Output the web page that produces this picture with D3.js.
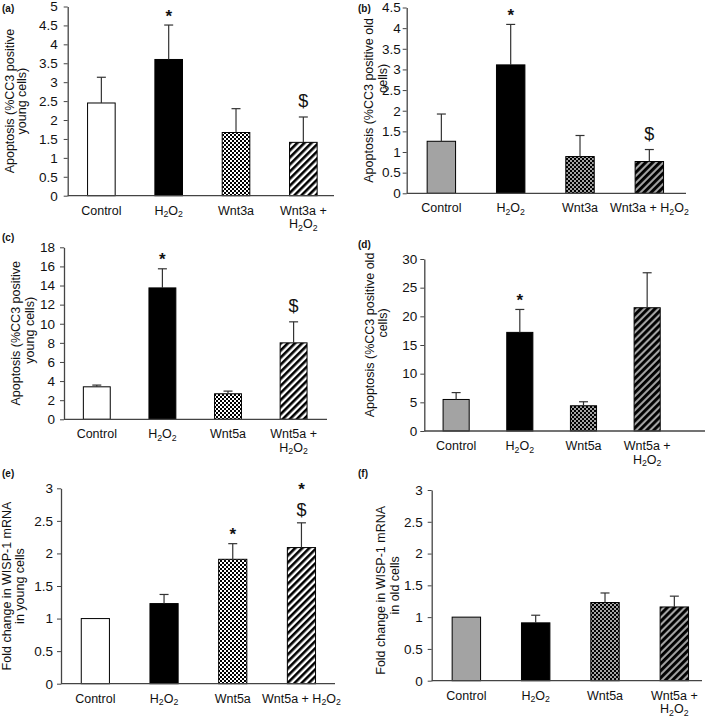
<!DOCTYPE html>
<html>
<head>
<meta charset="utf-8">
<script src="https://cdnjs.cloudflare.com/ajax/libs/d3/7.8.5/d3.min.js"></script>
<style>
  body { margin: 0; background: #fff; }
  svg { display: block; }
  text { font-family: "Liberation Sans", Arial, sans-serif; fill: #111; }
</style>
</head>
<body>
<div id="chart"></div>
<script>
// ---- data ----
var labelsA = [["Control"], ["H_2O_2"], ["Wnt3a"], ["Wnt3a +", "H_2O_2"]];
var labelsB = [["Control"], ["H_2O_2"], ["Wnt3a"], ["Wnt3a + H_2O_2"]];
var labelsC = [["Control"], ["H_2O_2"], ["Wnt5a"], ["Wnt5a +", "H_2O_2"]];
var labelsD = [["Control"], ["H_2O_2"], ["Wnt5a"], ["Wnt5a +", "H_2O_2"]];
var labelsE = [["Control"], ["H_2O_2"], ["Wnt5a"], ["Wnt5a + H_2O_2"]];
var labelsF = [["Control"], ["H_2O_2"], ["Wnt5a"], ["Wnt5a +", "H_2O_2"]];

var valsA = [2.45, 3.6, 1.67, 1.41];
var errA  = [0.68, 0.91, 0.63, 0.67];
var valsB = [1.26, 3.11, 0.89, 0.77];
var errB  = [0.66, 0.98, 0.51, 0.29];
var valsC = [3.4, 13.75, 2.67, 8.0];
var errC  = [0.18, 2.0, 0.28, 2.2];
var valsD = [5.5, 17.2, 4.4, 21.5];
var errD  = [1.2, 4.0, 0.7, 6.1];
var valsE = [1.0, 1.23, 1.91, 2.09];
var errE  = [0, 0.14, 0.24, 0.38];
var valsF = [1.0, 0.91, 1.23, 1.16];
var errF  = [0, 0.12, 0.15, 0.17];

// significance marks, bottom to top
var sigA = [[], ["*"], [], ["$"]];
var sigB = [[], ["*"], [], ["$"]];
var sigC = [[], ["*"], [], ["$"]];
var sigD = [[], ["*"], [], []];
var sigE = [[], [], ["*"], ["$", "*"]];
var sigF = [[], [], [], []];

var ticksA = [0, 0.5, 1, 1.5, 2, 2.5, 3, 3.5, 4, 4.5, 5];
var ticksB = [0, 0.5, 1, 1.5, 2, 2.5, 3, 3.5, 4, 4.5];
var ticksC = [0, 2, 4, 6, 8, 10, 12, 14, 16, 18];
var ticksD = [0, 5, 10, 15, 20, 25, 30];
var ticksE = [0, 0.5, 1, 1.5, 2, 2.5, 3];
var ticksF = [0, 0.5, 1, 1.5, 2, 2.5, 3];

// ---- layout ----
var W = 709, H = 718;
var panels = [
  {tag: "(a)", tagX: 2, tagY: 12, labels: labelsA, vals: valsA, err: errA, sig: sigA, ticks: ticksA,
   x0: 67.7, bandEnd: 337, axisEnd: 334, yTop: 6.5, yBot: 195.7, old: false, tickPad: 6,
   title: ["Apoptosis (%CC3 positive", "young cells)"], titleX: [10, 22], titleDy: [0, 0]},
  {tag: "(b)", tagX: 358, tagY: 12, labels: labelsB, vals: valsB, err: errB, sig: sigB, ticks: ticksB,
   x0: 406.7, bandEnd: 684, axisEnd: 686, yTop: 7.5, yBot: 193.3, old: true, tickPad: 2,
   title: ["Apoptosis (%CC3 positive old", "cells)"], titleX: [369, 383], titleDy: [0, -22]},
  {tag: "(c)", tagX: 2, tagY: 241, labels: labelsC, vals: valsC, err: errC, sig: sigC, ticks: ticksC,
   x0: 64, bandEnd: 326.4, axisEnd: 327, yTop: 247.3, yBot: 419.3, old: false, tickPad: 5,
   title: ["Apoptosis (%CC3 positive", "young cells)"], titleX: [15.5, 30], titleDy: [0, -3]},
  {tag: "(d)", tagX: 358, tagY: 248, labels: labelsD, vals: valsD, err: errD, sig: sigD, ticks: ticksD,
   x0: 424.3, bandEnd: 679, axisEnd: 705, yTop: 259, yBot: 431, old: true, tickPad: 3,
   title: ["Apoptosis (%CC3 positive old", "cells)"], titleX: [370, 383], titleDy: [-10, -22]},
  {tag: "(e)", tagX: 2, tagY: 477, labels: labelsE, vals: valsE, err: errE, sig: sigE, ticks: ticksE,
   x0: 61, bandEnd: 335.8, axisEnd: 335, yTop: 488.3, yBot: 683.7, old: false, tickPad: 4,
   title: ["Fold change in WISP-1 mRNA", "in young cells"], titleX: [7, 20], titleDy: [0, 0]},
  {tag: "(f)", tagX: 358, tagY: 477, labels: labelsF, vals: valsF, err: errF, sig: sigF, ticks: ticksF,
   x0: 431.7, bandEnd: 709, axisEnd: 702, yTop: 490, yBot: 680.7, old: true, tickPad: 5,
   title: ["Fold change in WISP-1 mRNA", "in old cells"], titleX: [381, 395], titleDy: [5, 0]}
];

var svg = d3.select("#chart").append("svg")
    .attr("width", W)
    .attr("height", H);

// fill patterns
var defs = svg.append("defs");
var grey = "#a3a3a3";

function dots(id, bg) {
  var p = defs.append("pattern").attr("id", id)
      .attr("patternUnits", "userSpaceOnUse").attr("width", 4).attr("height", 4);
  p.append("rect").attr("width", 4).attr("height", 4).attr("fill", bg);
  p.append("rect").attr("width", 2).attr("height", 2).attr("fill", "#000");
  p.append("rect").attr("x", 2).attr("y", 2).attr("width", 2).attr("height", 2).attr("fill", "#000");
}
function stripes(id, bg, w) {
  var p = defs.append("pattern").attr("id", id)
      .attr("patternUnits", "userSpaceOnUse").attr("width", 5).attr("height", 5)
      .attr("patternTransform", "rotate(45)");
  p.append("rect").attr("width", 5).attr("height", 5).attr("fill", bg);
  p.append("rect").attr("width", w).attr("height", 5).attr("fill", "#000");
}
dots("yDots", "#fff");
dots("oDots", grey);
stripes("yStripes", "#fff", 2.6);
stripes("oStripes", grey, 2.9);

var youngFill = ["#fff", "#000", "url(#yDots)", "url(#yStripes)"];
var oldFill = [grey, "#000", "url(#oDots)", "url(#oStripes)"];

// text with _2 style subscripts
function richText(sel, str, size) {
  var parts = str.split(/(_\d)/);
  var down = false;
  parts.forEach(function(s) {
    if (!s) return;
    if (s[0] === "_") {
      sel.append("tspan").attr("font-size", size * 0.7).attr("dy", down ? 0 : 2.5).text(s.slice(1));
      down = true;
    } else {
      sel.append("tspan").attr("dy", down ? -2.5 : 0).text(s);
      down = false;
    }
  });
}

panels.forEach(function(p) {
  var g = svg.append("g");
  var idx = d3.range(p.vals.length);

  var x = d3.scaleBand()
      .domain(idx)
      .range([p.x0, p.bandEnd])
      .paddingInner(0.59)
      .paddingOuter(0.295);

  var y = d3.scaleLinear()
      .domain([0, p.ticks[p.ticks.length - 1]])
      .range([p.yBot, p.yTop]);

  // bars
  var fills = p.old ? oldFill : youngFill;
  g.selectAll("rect.bar")
    .data(idx)
    .enter().append("rect")
      .attr("class", "bar")
      .attr("x", function(i) { return x(i); })
      .attr("y", function(i) { return y(p.vals[i]); })
      .attr("width", x.bandwidth())
      .attr("height", function(i) { return y(0) - y(p.vals[i]); })
      .attr("fill", function(i) { return fills[i]; })
      .attr("stroke", "#000")
      .attr("stroke-width", 1);

  // error bars (upper only)
  var eb = g.selectAll("g.err")
    .data(idx.filter(function(i) { return p.err[i] > 0; }))
    .enter().append("g")
      .attr("stroke", "#333")
      .attr("stroke-width", 1.2);
  eb.append("line")
      .attr("x1", function(i) { return x(i) + x.bandwidth() / 2; })
      .attr("x2", function(i) { return x(i) + x.bandwidth() / 2; })
      .attr("y1", function(i) { return y(p.vals[i]); })
      .attr("y2", function(i) { return y(p.vals[i] + p.err[i]); });
  eb.append("line")
      .attr("x1", function(i) { return x(i) + x.bandwidth() / 2 - 4.5; })
      .attr("x2", function(i) { return x(i) + x.bandwidth() / 2 + 4.5; })
      .attr("y1", function(i) { return y(p.vals[i] + p.err[i]); })
      .attr("y2", function(i) { return y(p.vals[i] + p.err[i]); });

  // significance marks
  idx.forEach(function(i) {
    var top = y(p.vals[i] + p.err[i]);
    var cx = x(i) + x.bandwidth() / 2;
    p.sig[i].forEach(function(m, k) {
      var c = (m === "$" ? top - 16 : top - 13) - (k > 0 ? 24 : 0);
      if (p.sig[i].length > 1 && m === "$") c = top - 13;
      g.append("text")
        .attr("x", cx)
        .attr("y", c)
        .attr("dy", m === "*" ? "0.56em" : "0.34em")
        .attr("text-anchor", "middle")
        .attr("font-size", m === "*" ? 17 : 18)
        .attr("font-weight", m === "*" ? "bold" : "normal")
        .text(m);
    });
  });

  // y axis
  var yAxis = d3.axisLeft(y)
      .tickValues(p.ticks)
      .tickSize(4)
      .tickSizeOuter(0)
      .tickPadding(p.tickPad)
      .tickFormat(function(d) { return String(d); });
  var ya = g.append("g")
      .attr("transform", "translate(" + p.x0 + ",0)")
      .call(yAxis);
  ya.select(".domain").attr("stroke", "#444").attr("stroke-width", 1.3);
  ya.selectAll(".tick line").attr("stroke", "#444");
  ya.selectAll(".tick text")
      .attr("font-size", 13.5)
      .attr("font-family", "Liberation Sans, Arial, sans-serif")
      .attr("fill", "#111");

  // x axis line
  g.append("line")
      .attr("x1", p.x0).attr("x2", p.axisEnd)
      .attr("y1", y(0)).attr("y2", y(0))
      .attr("stroke", "#444")
      .attr("stroke-width", 1.3);

  // category labels
  idx.forEach(function(i) {
    p.labels[i].forEach(function(line, k) {
      var t = g.append("text")
          .attr("x", x(i) + x.bandwidth() / 2)
          .attr("y", y(0) + 19 + k * 13.5)
          .attr("text-anchor", "middle")
          .attr("font-size", 12.5);
      richText(t, line, 12.5);
    });
  });

  // y title
  var cy = (p.yTop + p.yBot) / 2;
  p.title.forEach(function(line, k) {
    g.append("text")
      .attr("transform", "translate(" + p.titleX[k] + "," + (cy + p.titleDy[k]) + ") rotate(-90)")
      .attr("dy", "0.35em")
      .attr("text-anchor", "middle")
      .attr("font-size", 12.5)
      .text(line);
  });

  // panel tag
  g.append("text")
    .attr("x", p.tagX)
    .attr("y", p.tagY)
    .attr("font-size", 10)
    .attr("font-weight", "bold")
    .text(p.tag);
});
</script>
</body>
</html>
